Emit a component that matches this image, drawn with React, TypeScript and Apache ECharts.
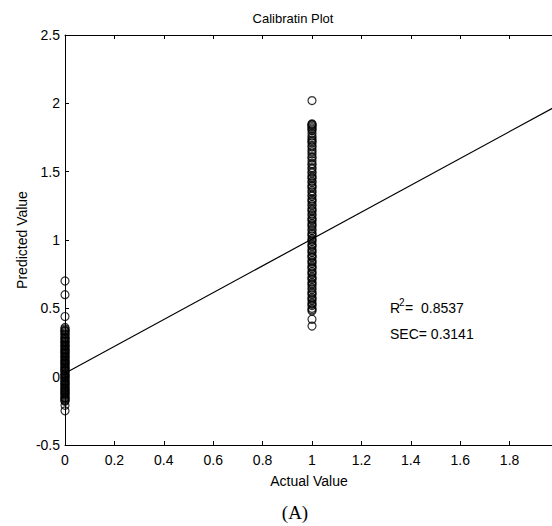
import React, { useEffect, useRef } from "react";
import * as echarts from "echarts";

// Actual values (x) of the two sample groups
const actualGroups = [0, 1];
// Predicted values for samples whose actual value is 0
const predictedAtZero = [
  0.7, 0.6, 0.44, 0.36, 0.35, 0.34, 0.335, 0.33, 0.32, 0.31, 0.305, 0.29, 0.285, 0.28,
  0.27, 0.26, 0.255, 0.25, 0.24, 0.23, 0.225, 0.22, 0.21, 0.2, 0.195, 0.19, 0.18, 0.175,
  0.17, 0.16, 0.15, 0.145, 0.14, 0.13, 0.12, 0.115, 0.11, 0.1, 0.095, 0.09, 0.08, 0.07,
  0.065, 0.06, 0.05, 0.045, 0.04, 0.03, 0.02, 0.015, 0.01, 0.0, -0.005, -0.01, -0.02,
  -0.03, -0.035, -0.04, -0.05, -0.055, -0.06, -0.07, -0.08, -0.085, -0.09, -0.1, -0.105,
  -0.11, -0.12, -0.125, -0.13, -0.14, -0.15, -0.155, -0.16, -0.17, -0.175, -0.18,
  -0.21, -0.25,
];
// Predicted values for samples whose actual value is 1
const predictedAtOne = [
  2.02, 1.85, 1.845, 1.84, 1.83, 1.82, 1.81, 1.8, 1.78, 1.76, 1.745, 1.73, 1.72, 1.71,
  1.69, 1.68, 1.66, 1.645, 1.63, 1.61, 1.6, 1.58, 1.56, 1.55, 1.53, 1.52, 1.5, 1.49,
  1.47, 1.46, 1.45, 1.43, 1.42, 1.4, 1.39, 1.38, 1.36, 1.35, 1.33, 1.32, 1.3, 1.29,
  1.28, 1.26, 1.25, 1.23, 1.22, 1.21, 1.19, 1.18, 1.16, 1.15, 1.14, 1.12, 1.11, 1.1,
  1.08, 1.07, 1.05, 1.04, 1.03, 1.01, 1.0, 0.99, 0.97, 0.96, 0.95, 0.93, 0.92, 0.91,
  0.89, 0.88, 0.87, 0.85, 0.84, 0.83, 0.81, 0.8, 0.79, 0.77, 0.76, 0.75, 0.73, 0.72,
  0.71, 0.69, 0.68, 0.67, 0.65, 0.64, 0.62, 0.61, 0.6, 0.58, 0.57, 0.56, 0.54, 0.53,
  0.52, 0.5, 0.49, 0.48, 0.42, 0.37,
];
// Fitted calibration line end points
const fitX = [0, 2];
const fitY = [0.025, 1.99];
// Statistics
const r2Text = "0.8537";
const secText = "0.3141";

export default function App() {
  const ref = useRef<HTMLDivElement>(null);
  useEffect(() => {
    const chart = echarts.init(ref.current!, null, { renderer: "svg" });
    const font = "'Liberation Sans', Arial, sans-serif";
    const scatterData = [
      ...predictedAtZero.map((v) => [actualGroups[0], v]),
      ...predictedAtOne.map((v) => [actualGroups[1], v]),
    ];
    const lineData = fitX.map((x, i) => [x, fitY[i]]);
    const axisCommon = {
      splitLine: { show: false },
      axisLine: { show: true, onZero: false, lineStyle: { color: "#000", width: 1 } },
      axisTick: { show: true, inside: true, length: 4, lineStyle: { color: "#000" } },
    };
    const fmt = (v: number) => String(Number(v.toFixed(1)));
    const fmtX = (v: number) => (v >= 1.99 ? "" : String(Number(v.toFixed(1))));
    chart.setOption({
      animation: false,
      backgroundColor: "#fff",
      grid: { left: 65, top: 35, right: 11, bottom: 81, containLabel: false },
      xAxis: [
        {
          type: "value",
          min: 0,
          max: 2,
          interval: 0.2,
          position: "bottom",
          ...axisCommon,
          axisLabel: { color: "#000", fontSize: 14, fontFamily: font, margin: 8, formatter: fmtX },
        },
        {
          type: "value",
          min: 0,
          max: 2,
          interval: 0.2,
          position: "top",
          ...axisCommon,
          axisLabel: { show: false },
        },
      ],
      yAxis: [
        {
          type: "value",
          min: -0.5,
          max: 2.5,
          interval: 0.5,
          position: "left",
          ...axisCommon,
          axisLabel: { color: "#000", fontSize: 14, fontFamily: font, margin: 5, formatter: fmt },
        },
        {
          type: "value",
          min: -0.5,
          max: 2.5,
          interval: 0.5,
          position: "right",
          ...axisCommon,
          axisLabel: { show: false },
        },
      ],
      series: [
        {
          type: "line",
          data: lineData,
          symbol: "none",
          lineStyle: { color: "#000", width: 1.2 },
          z: 3,
        },
        {
          type: "scatter",
          data: scatterData,
          symbol: "circle",
          symbolSize: 8,
          itemStyle: { color: "rgba(0,0,0,0)", borderColor: "#000", borderWidth: 1.2 },
          z: 2,
        },
      ],
      graphic: [
        {
          type: "text",
          x: 293,
          y: 18,
          style: { text: "Calibratin Plot", fontSize: 13, fontFamily: font, fill: "#000", align: "center", verticalAlign: "middle" },
        },
        {
          type: "text",
          x: 309,
          y: 481,
          style: { text: "Actual Value", fontSize: 14, fontFamily: font, fill: "#000", align: "center", verticalAlign: "middle" },
        },
        {
          type: "text",
          x: 22,
          y: 240,
          rotation: Math.PI / 2,
          style: { text: "Predicted Value", fontSize: 14, fontFamily: font, fill: "#000", align: "center", verticalAlign: "middle" },
        },
        {
          type: "text",
          x: 390,
          y: 308,
          style: { text: "R", fontSize: 14, fontFamily: font, fill: "#000", align: "left", verticalAlign: "middle" },
        },
        {
          type: "text",
          x: 399,
          y: 302,
          style: { text: "2", fontSize: 10, fontFamily: font, fill: "#000", align: "left", verticalAlign: "middle" },
        },
        {
          type: "text",
          x: 405,
          y: 308,
          style: { text: "=  " + r2Text, fontSize: 14, fontFamily: font, fill: "#000", align: "left", verticalAlign: "middle" },
        },
        {
          type: "text",
          x: 390,
          y: 334,
          style: { text: "SEC= " + secText, fontSize: 14, fontFamily: font, fill: "#000", align: "left", verticalAlign: "middle" },
        },
        {
          type: "text",
          x: 295,
          y: 512,
          style: { text: "(A)", fontSize: 19, fontFamily: "'Liberation Serif', 'Times New Roman', serif", fill: "#000", align: "center", verticalAlign: "middle" },
        },
      ],
    });
    return () => chart.dispose();
  }, []);
  return (
    <div style={{ position: "absolute", left: 0, top: 0, width: 552, height: 526, overflow: "hidden", background: "#fff" }}>
      <div ref={ref} style={{ width: 570, height: 526 }} />
    </div>
  );
}
